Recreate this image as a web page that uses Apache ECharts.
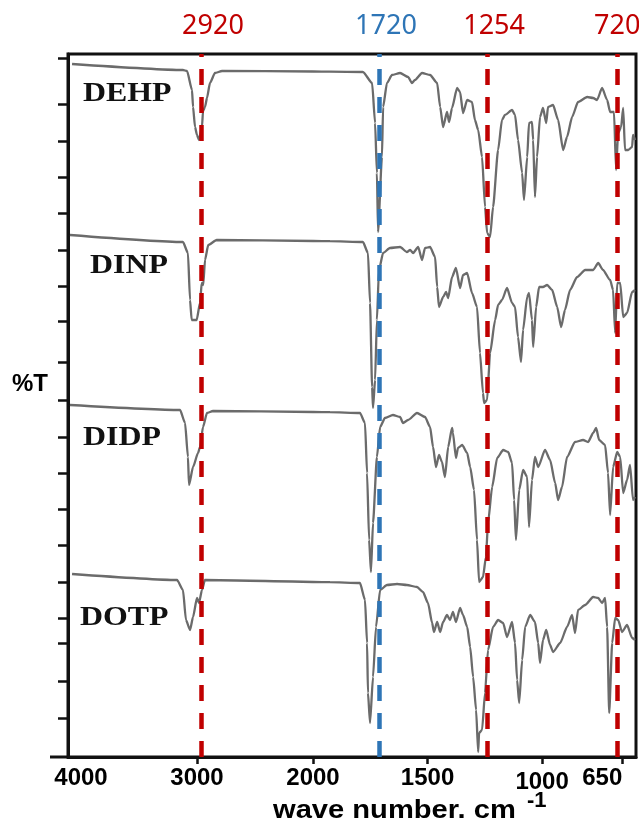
<!DOCTYPE html>
<html><head><meta charset="utf-8">
<script src="https://cdn.jsdelivr.net/npm/echarts@6/dist/echarts.min.js"></script>
<style>html,body{margin:0;padding:0;background:#fff}#c{width:639px;height:827px}</style>
</head><body><div id="c"></div>
<script>
// ---- data (x: wave number cm-1, y: %T in stacked arbitrary units) ----
const sampleNames = ['DEHP', 'DINP', 'DIDP', 'DOTP'];
const xLabelsHigh = [4000, 3000];
const xTicksHigh = [3000];
const xTicksLow = [2000, 1500, 1000, 650];
const xLabelsLow = [2000, 1500, 1000];
const xLabelsEdge = [650];
const yTicks = [699, 653, 616, 580, 544, 507, 471, 436, 395, 357, 320, 284, 248, 212, 175, 139, 114, 76, 39];
const markerLabels = ['2920', '1720', '1254', '720'];
const markerPositions = [2966, 1712, 1240, 672];
const xTitle = 'wave number. cm';
const xTitleSup = '-1';
const yTitle = '%T';

const dehpHigh = [[4077,693],[3121,687],[3086,686],[3043,667],[3034,650],[3017,630],[3000,622],[2983,617],[2957,630],[2948,646],[2931,650],[2914,659],[2888,674],[2845,684],[2784,686],[2000,685.5]];
const dehpLow = [[2000,685.5],[1926,685.3],[1782,685],[1742,674],[1729,634],[1721,584],[1716,525],[1699,600],[1694,650],[1677,674],[1655,682],[1620,684],[1585,680],[1568,674],[1555,677],[1524,684],[1489,682],[1458,674],[1445,650],[1432,630],[1415,645],[1406,635],[1393,649],[1371,669],[1358,665],[1345,644],[1327,657],[1306,655],[1293,637],[1279,627],[1262,600],[1249,550],[1240,524],[1227,520],[1214,550],[1192,607],[1175,637],[1162,642],[1131,647],[1118,642],[1105,617],[1087,584],[1079,557],[1065,600],[1057,634],[1044,635],[1039,617],[1031,560],[1022,600],[1009,640],[996,649],[982,634],[974,650],[952,652],[930,637],[908,607],[891,620],[869,640],[843,655],[803,660],[777,659],[760,657],[738,669],[716,657],[703,645],[686,645],[677,587],[668,624],[655,630],[646,649],[638,607],[624,607],[607,610],[603,622],[594,617]];

const dinpHigh = [[4095,522],[3121,515],[3078,504],[3060,457],[3046,437],[3003,437],[2974,454],[2959,474],[2946,472],[2931,497],[2903,512],[2830,517],[2000,516]];
const dinpLow = [[2000,516],[1926,515.8],[1782,515],[1760,504],[1751,454],[1742,370],[1738,349],[1729,377],[1721,437],[1712,487],[1694,504],[1664,509],[1620,510],[1590,505],[1576,507],[1563,504],[1541,510],[1524,497],[1511,509],[1489,510],[1467,500],[1458,470],[1450,450],[1432,460],[1419,465],[1410,459],[1393,480],[1376,489],[1358,469],[1345,482],[1327,484],[1306,464],[1284,450],[1271,404],[1258,364],[1253,354],[1240,357],[1227,404],[1205,437],[1192,452],[1175,457],[1153,469],[1131,454],[1118,450],[1105,420],[1092,395],[1083,427],[1065,460],[1057,464],[1044,437],[1039,410],[1026,450],[1013,470],[996,470],[978,472],[956,467],[934,450],[917,430],[900,447],[878,467],[847,480],[812,487],[777,487],[755,494],[734,487],[703,477],[690,467],[681,424],[672,474],[659,474],[646,440],[629,444],[607,465],[594,467]];

const didpHigh = [[4095,352],[3146,347],[3103,334],[3078,300],[3069,272],[3034,290],[2991,304],[2974,310],[2948,330],[2914,344],[2862,346],[2000,345]];
const didpLow = [[2000,345],[1926,344.8],[1795,344],[1773,334],[1764,284],[1755,217],[1747,185],[1738,234],[1721,300],[1707,330],[1686,339],[1651,342],[1620,340],[1607,334],[1585,337],[1546,344],[1511,340],[1489,330],[1476,310],[1463,290],[1450,302],[1437,295],[1424,280],[1410,310],[1393,329],[1389,324],[1376,299],[1367,309],[1349,312],[1327,304],[1314,290],[1297,267],[1284,217],[1275,175],[1258,180],[1245,200],[1236,234],[1218,270],[1196,299],[1170,307],[1148,305],[1131,294],[1122,257],[1114,217],[1100,267],[1083,287],[1065,280],[1057,230],[1044,277],[1031,300],[1017,290],[987,307],[965,297],[943,274],[930,257],[913,270],[891,300],[856,315],[821,317],[799,315],[777,324],[764,329],[751,317],[725,312],[712,284],[703,242],[690,290],[672,305],[659,300],[646,264],[629,277],[616,292],[603,257],[594,260]];

const dotpHigh = [[4077,183],[3172,177],[3121,167],[3095,137],[3060,127],[3034,140],[3000,159],[2983,154],[2957,167],[2931,177],[2000,175]];
const dotpLow = [[2000,175],[1926,174.8],[1795,174],[1773,157],[1764,114],[1760,64],[1751,34],[1738,80],[1725,130],[1707,167],[1677,172],[1633,173],[1590,172],[1546,170],[1520,165],[1498,154],[1480,134],[1472,125],[1458,135],[1445,125],[1432,135],[1415,142],[1402,137],[1389,145],[1376,135],[1358,149],[1345,142],[1327,130],[1314,110],[1301,80],[1288,47],[1279,5],[1275,24],[1262,27],[1249,64],[1236,107],[1214,130],[1192,137],[1170,134],[1153,120],[1131,135],[1118,114],[1109,77],[1100,54],[1087,97],[1074,130],[1052,142],[1031,135],[1017,114],[1009,94],[996,117],[982,127],[965,112],[952,105],[921,114],[891,130],[869,142],[856,124],[843,147],[812,152],[777,160],[755,159],[738,154],[725,159],[716,130],[707,44],[694,114],[681,139],[668,137],[651,125],[629,132],[607,119],[594,117]];

// ---- chart ----
const RED = '#C00000', BLUE = '#2E75B6', LINE = '#6b6b6b';
const chart = echarts.init(document.getElementById('c'), null, {renderer: 'canvas'});
const highSets = [dehpHigh, dinpHigh, didpHigh, dotpHigh];
const lowSets = [dehpLow, dinpLow, didpLow, dotpLow];

function markData(indices) {
  return indices.map(i => ({
    xAxis: markerPositions[i],
    lineStyle: {color: i === 1 ? BLUE : RED},
    label: {
      formatter: markerLabels[i],
      color: i === 1 ? BLUE : RED,
      padding: i === 0 ? [0, 0, 0, 24] : (i === 3 ? [0, 0, 0, 0] : [0, 0, 0, 14])
    }
  }));
}
const markBase = {
  silent: true, symbol: ['none', 'none'], animation: false,
  lineStyle: {type: [16, 12], width: 4.5},
  label: {show: true, position: 'end', distance: 14, fontFamily: 'Noto Sans', fontSize: 27}
};

const lineCommon = {type: 'line', showSymbol: false, smooth: 0.2, smoothMonotone: 'x',
  lineStyle: {color: LINE, width: 2.3}, itemStyle: {color: LINE}};
const series = [];
sampleNames.forEach((name, k) => {
  series.push(Object.assign({}, lineCommon, {
    name: name, xAxisIndex: 0, yAxisIndex: 0, data: highSets[k],
    markLine: k === 0 ? Object.assign({}, markBase, {data: markData([0])}) : undefined
  }));
  series.push(Object.assign({}, lineCommon, {
    name: name, xAxisIndex: 1, yAxisIndex: 1, data: lowSets[k],
    markLine: k === 0 ? Object.assign({}, markBase, {data: markData([1, 2, 3])}) : undefined
  }));
});

const fontBase = {fontFamily: 'Liberation Sans', fontWeight: 'bold', fontSize: 24, color: '#000'};
const option = {
  animation: false,
  grid: [
    {left: 68, top: 54, width: 245, bottom: 70, containLabel: false, outerBoundsMode: 'none'},
    {left: 313, top: 54, width: 323, bottom: 70, containLabel: false, outerBoundsMode: 'none'},
    {left: 68, top: 54, right: 3, bottom: 70, containLabel: false, outerBoundsMode: 'none', show: true, borderColor: '#111', borderWidth: 3, backgroundColor: 'transparent'}
  ],
  xAxis: [
    {type: 'value', gridIndex: 0, inverse: true, min: 2000, max: 4112, position: 'bottom',
      axisLine: {show: true, lineStyle: {color: '#111', width: 3}},
      axisTick: {show: true, customValues: xTicksHigh, length: 7, lineStyle: {color: '#111', width: 2.5}},
      axisLabel: Object.assign({customValues: xLabelsHigh, margin: 9, formatter: v => String(v)}, fontBase),
      splitLine: {show: false}},
    {type: 'value', gridIndex: 1, inverse: true, min: 590, max: 2000, position: 'bottom',
      axisLine: {show: true, lineStyle: {color: '#111', width: 3}},
      axisTick: {show: true, customValues: xTicksLow, length: 7, lineStyle: {color: '#111', width: 2.5}},
      axisLabel: Object.assign({customValues: xLabelsLow, margin: 9,
        formatter: v => v === 1000 ? '{d|1000}' : String(v),
        rich: {d: Object.assign({}, fontBase, {padding: [4, 0, 0, 0]})}}, fontBase),
      splitLine: {show: false}},
    {type: 'value', gridIndex: 2, show: false, min: 0, max: 1},
    {type: 'value', gridIndex: 1, inverse: true, min: 590, max: 2000, position: 'bottom', offset: 0,
      axisLine: {show: false}, axisTick: {show: false},
      axisLabel: Object.assign({customValues: xLabelsEdge, margin: 9, align: 'right', formatter: v => String(v)}, fontBase),
      splitLine: {show: false}}
  ],
  yAxis: [
    {type: 'value', gridIndex: 0, min: 0, max: 703,
      axisLine: {show: true, lineStyle: {color: '#111', width: 3}},
      axisTick: {show: true, customValues: yTicks, length: 10, lineStyle: {color: '#111', width: 2.5}},
      axisLabel: {show: false}, splitLine: {show: false}},
    {type: 'value', gridIndex: 1, min: 0, max: 703, show: false, splitLine: {show: false}},
    {type: 'value', gridIndex: 2, show: false, min: 0, max: 1}
  ],
  series: series,
  graphic: [
    {type: 'line', shape: {x1: 50, y1: 757, x2: 68, y2: 757}, style: {stroke: '#111', lineWidth: 3}},
    {type: 'text', x: 83, y: 94, scaleX: 1.18, style: {text: sampleNames[0], font: 'bold 27px "Liberation Serif"', fill: '#111', textAlign: 'left', textVerticalAlign: 'middle'}},
    {type: 'text', x: 90, y: 266, scaleX: 1.18, style: {text: sampleNames[1], font: 'bold 27px "Liberation Serif"', fill: '#111', textAlign: 'left', textVerticalAlign: 'middle'}},
    {type: 'text', x: 83, y: 438, scaleX: 1.18, style: {text: sampleNames[2], font: 'bold 27px "Liberation Serif"', fill: '#111', textAlign: 'left', textVerticalAlign: 'middle'}},
    {type: 'text', x: 80, y: 618, scaleX: 1.18, style: {text: sampleNames[3], font: 'bold 27px "Liberation Serif"', fill: '#111', textAlign: 'left', textVerticalAlign: 'middle'}},
    {type: 'text', x: 12, y: 384, style: {text: yTitle, font: 'bold 24px "Liberation Sans"', fill: '#000', textAlign: 'left', textVerticalAlign: 'middle'}},
    {type: 'text', x: 273, y: 811, scaleX: 1.12, style: {text: xTitle, font: 'bold 26px "Liberation Sans"', fill: '#000', textAlign: 'left', textVerticalAlign: 'middle'}},
    {type: 'text', x: 527, y: 801, style: {text: xTitleSup, font: 'bold 22px "Liberation Sans"', fill: '#000', textAlign: 'left', textVerticalAlign: 'middle'}}
  ]
};
chart.setOption(option);
</script>
</body></html>
